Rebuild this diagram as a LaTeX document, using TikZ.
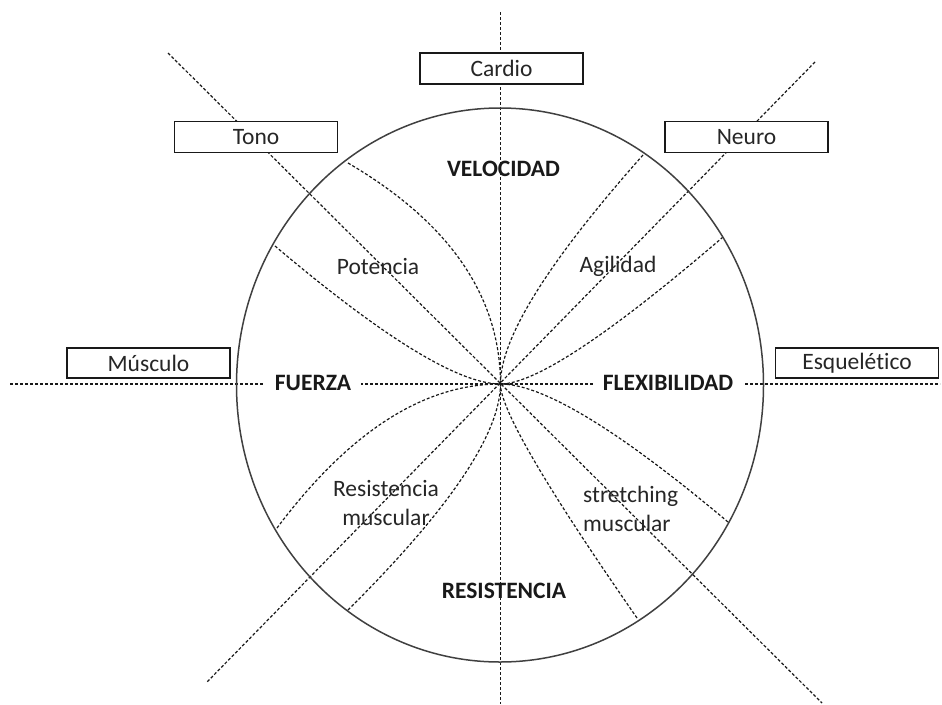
\documentclass[tikz,border=0pt]{standalone}
\usepackage{fontspec}
\setmainfont{Carlito}[Ligatures=NoCommon]
\usetikzlibrary{calc}
\begin{document}
\begin{tikzpicture}[x=1pt,y=-1pt,
  axisline/.style={line width=1.2pt,dash pattern=on 3pt off 2pt,black!90},
  circ/.style={line width=1.5pt,black!75},
  boxlbl/.style={draw=black!90,line width=1.5pt,fill=white,minimum width=163pt,minimum height=31pt,inner sep=0pt,font=\fontsize{23.5}{27}\selectfont,text=black!85},
  axlbl/.style={fill=white,inner xsep=10pt,inner ysep=2pt,font=\fontsize{23.5}{27}\selectfont\bfseries,text=black!90},
  arealbl/.style={font=\fontsize{23.5}{29.5}\selectfont,text=black!85,inner sep=0pt}]
\useasboundingbox (0,0) rectangle (942,704);
\coordinate (O) at (500.5,384);
% axis ends
\coordinate (top) at (500.5,12);
\coordinate (bot) at (500.5,704);
\coordinate (lft) at (10,384);
\coordinate (rgt) at (940,384);
% diagonal ends
\coordinate (d1a) at (168,53);
\coordinate (d1b) at (822,703);
\coordinate (d2a) at (815,62);
\coordinate (d2b) at (207,682);
\draw[axisline] (top) -- (bot);
\draw[axisline] (lft) -- (rgt);
\draw[axisline] (d1a) -- (d1b);
\draw[axisline] (d2a) -- (d2b);
% curves: start S, quadratic control P
\foreach \n/\sx/\sy/\px/\py in {
  ula/348/163/500/252,
  ulb/275/246/438/384,
  ura/643/155/500/316,
  urb/723/237/552/384,
  lla/277/528/385/384,
  llb/348/610/500/459,
  lra/728/522/564/384,
  lrb/637/618/500/421}{
  \coordinate (\n S) at (\sx,\sy);
  \coordinate (\n P) at (\px,\py);
  \draw[axisline] (\n S) .. controls ($(\n S)!0.6667!(\n P)$) and ($(O)!0.6667!(\n P)$) .. (O);
}
\draw[circ] (500,385) ellipse [x radius=263.5, y radius=277];
% boxes
\node[boxlbl] (cardio) at (501.5,68.5) {Cardio};
\node[boxlbl] (tono) at (256,137) {Tono};
\node[boxlbl] (neuro) at (746.5,137) {Neuro};
\node[boxlbl,minimum height=30pt] (musculo) at (148.5,363) {Músculo};
\node[boxlbl,minimum height=30pt] (esque) at (857,363) {Esquelético};
% axis labels
\node[axlbl] (fuerza) at (313,383) {FUERZA};
\node[axlbl] (flex) at (668,383) {FLEXIBILIDAD};
\node[axlbl,fill=none] (vel) at (503.5,169) {VELOCIDAD};
\node[axlbl,fill=none] (res) at (504,591) {RESISTENCIA};
% area labels
\node[arealbl] (pot) at (378,266) {Potencia};
\node[arealbl] (agi) at (618,266) {Agilidad};
\node[arealbl,align=center] (resm) at (386,503) {Resistencia\\muscular};
\node[arealbl,align=left,anchor=west] (str) at (583,509) {stretching\\muscular};
\end{tikzpicture}
\end{document}
